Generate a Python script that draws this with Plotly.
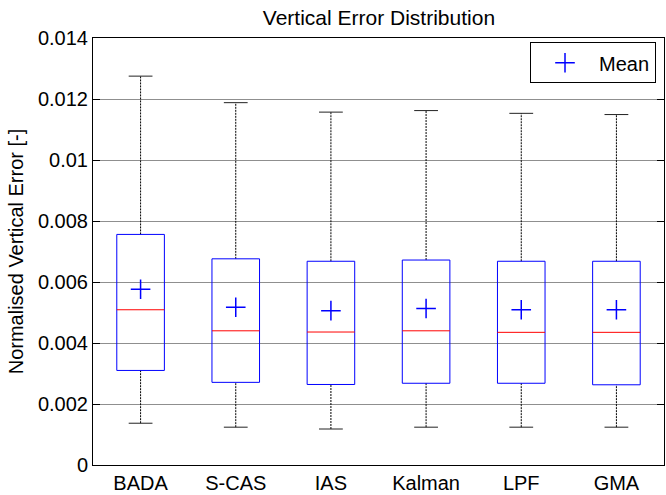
import plotly.graph_objects as go

# Box statistics per method (normalised vertical error)
methods = ["BADA", "S-CAS", "IAS", "Kalman", "LPF", "GMA"]
lower_whisker = [0.00137, 0.00124, 0.00118, 0.00124, 0.00124, 0.00124]
q1 = [0.00310, 0.00271, 0.00264, 0.00268, 0.00268, 0.00263]
median = [0.00509, 0.00440, 0.00436, 0.00440, 0.00435, 0.00435]
q3 = [0.00756, 0.00676, 0.00668, 0.00672, 0.00668, 0.00668]
upper_whisker = [0.01275, 0.01188, 0.01157, 0.01162, 0.01153, 0.01149]
mean = [0.00576, 0.00517, 0.00506, 0.00513, 0.00509, 0.00509]

y_ticks = [0, 0.002, 0.004, 0.006, 0.008, 0.010, 0.012, 0.014]
y_tick_text = ["0", "0.002", "0.004", "0.006", "0.008", "0.01", "0.012", "0.014"]

FONT = "Liberation Sans, Arial, sans-serif"
BOX_HALF = 0.25
CAP_HALF = 0.125

positions = list(range(1, len(methods) + 1))

fig = go.Figure()

# Whiskers (dotted) from box edges to extremes
wx, wy = [], []
for p, lo, a, b, hi in zip(positions, lower_whisker, q1, q3, upper_whisker):
    wx += [p, p, None, p, p, None]
    wy += [b, hi, None, lo, a, None]
fig.add_trace(go.Scatter(x=wx, y=wy, mode="lines", showlegend=False, hoverinfo="skip",
                         line=dict(color="black", width=1, dash="2px,1px")))

# Whisker caps
cx, cy = [], []
for p, lo, hi in zip(positions, lower_whisker, upper_whisker):
    cx += [p - CAP_HALF, p + CAP_HALF, None, p - CAP_HALF, p + CAP_HALF, None]
    cy += [hi, hi, None, lo, lo, None]
fig.add_trace(go.Scatter(x=cx, y=cy, mode="lines", showlegend=False, hoverinfo="skip",
                         line=dict(color="#222222", width=1)))

# Boxes
bx, by = [], []
for p, a, b in zip(positions, q1, q3):
    bx += [p - BOX_HALF, p + BOX_HALF, p + BOX_HALF, p - BOX_HALF, p - BOX_HALF, None]
    by += [a, a, b, b, a, None]
fig.add_trace(go.Scatter(x=bx, y=by, mode="lines", showlegend=False, hoverinfo="skip",
                         line=dict(color="#0000ff", width=1)))

# Medians
mx, my = [], []
for p, m in zip(positions, median):
    mx += [p - BOX_HALF, p + BOX_HALF, None]
    my += [m, m, None]
fig.add_trace(go.Scatter(x=mx, y=my, mode="lines", showlegend=False, hoverinfo="skip",
                         line=dict(color="#ff0000", width=1)))

# Means
fig.add_trace(go.Scatter(x=positions, y=mean, mode="markers", name="Mean",
                         marker=dict(symbol="cross-thin", size=14, color="#0000ff",
                                     line=dict(color="#0000ff", width=1.5))))

fig.update_layout(
    width=666, height=495,
    margin=dict(l=93, r=1, t=38, b=27),
    paper_bgcolor="white", plot_bgcolor="white",
    font=dict(family=FONT, size=20, color="black"),
    title=dict(text="Vertical Error Distribution", x=0.569, xanchor="center",
               y=0.965, yanchor="middle", font=dict(size=21)),
    showlegend=True,
    legend=dict(x=0.986, xanchor="right", y=0.99, yanchor="top",
                bgcolor="white", bordercolor="black", borderwidth=1,
                font=dict(size=20), itemwidth=58),
)

fig.update_xaxes(
    range=[0.5, len(methods) + 0.5],
    tickmode="array", tickvals=positions, ticktext=methods,
    showgrid=False, zeroline=False,
    showline=True, linecolor="black", linewidth=1, mirror=True,
    ticks="", ticklabelstandoff=0,
)
fig.update_yaxes(
    range=[0, 0.014],
    tickmode="array", tickvals=y_ticks, ticktext=y_tick_text,
    showgrid=True, gridcolor="#8f8f8f", gridwidth=1, zeroline=False,
    showline=True, linecolor="black", linewidth=1, mirror="ticks",
    ticks="inside", ticklen=7, tickcolor="black",
    title=dict(text="Normalised Vertical Error [-]", standoff=8, font=dict(size=20)),
)

fig.write_html("out.html")
